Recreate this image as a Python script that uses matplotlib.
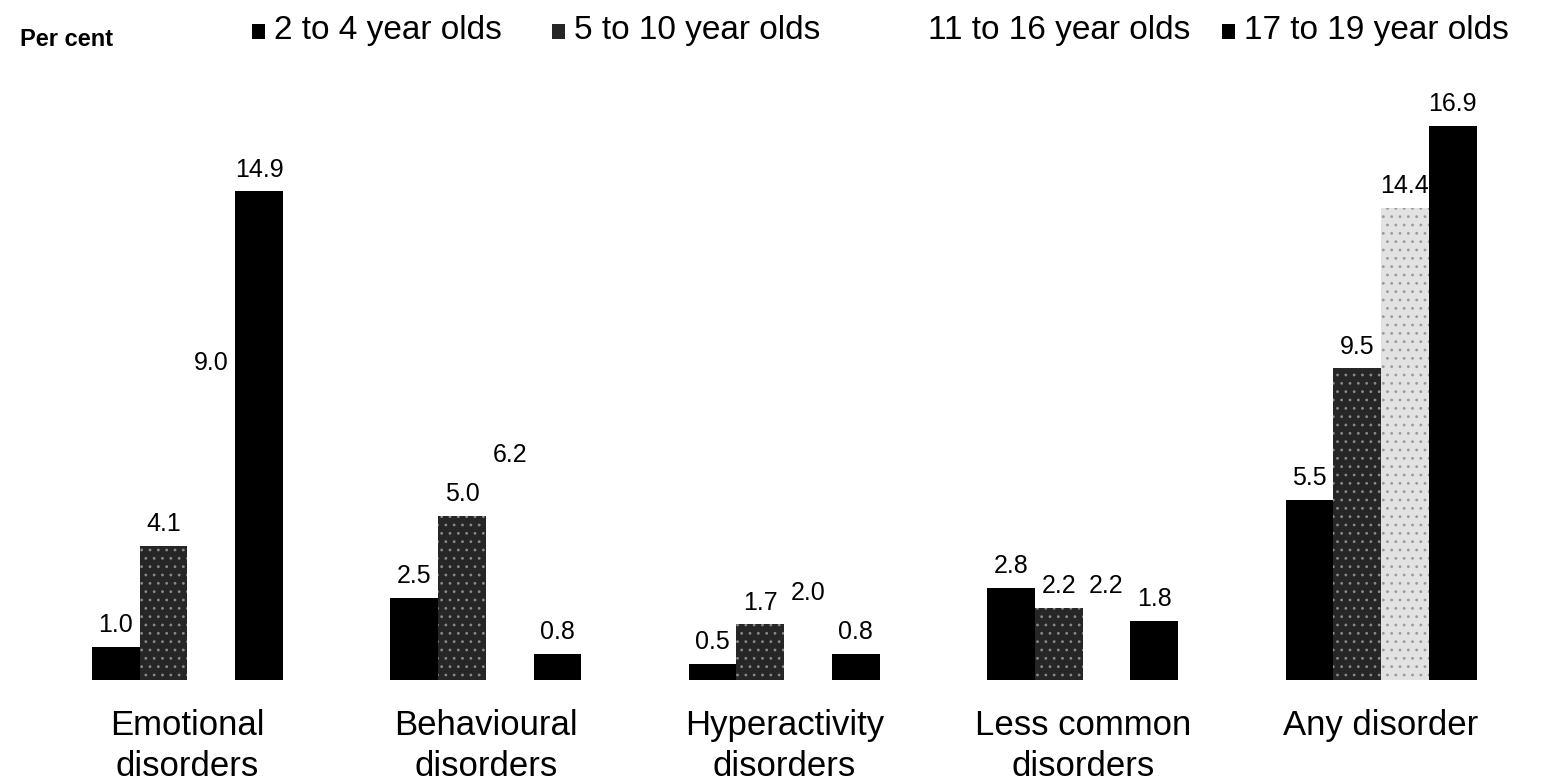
import matplotlib
matplotlib.use("Agg")
import matplotlib.pyplot as plt
from matplotlib.patches import Rectangle
import numpy as np

categories = ["Emotional\ndisorders", "Behavioural\ndisorders", "Hyperactivity\ndisorders",
              "Less common\ndisorders", "Any disorder"]
series_names = ["2 to 4 year olds", "5 to 10 year olds", "11 to 16 year olds", "17 to 19 year olds"]
age_2_4 = [1.0, 2.5, 0.5, 2.8, 5.5]
age_5_10 = [4.1, 5.0, 1.7, 2.2, 9.5]
age_11_16 = [9.0, 6.2, 2.0, 2.2, 14.4]
age_17_19 = [14.9, 0.8, 0.8, 1.8, 16.9]
series = [age_2_4, age_5_10, age_11_16, age_17_19]

plt.rcParams['font.family'] = ['Liberation Sans', 'DejaVu Sans']
plt.rcParams['hatch.linewidth'] = 0.8

W, H = 1544, 782
fig = plt.figure(figsize=(W / 100, H / 100), dpi=100)
ax = fig.add_axes([0, 102 / H, 1, 656 / H])
ax.set_xlim(-0.628, 4.546)
ax.set_ylim(0, 20)
ax.axis('off')

x = np.arange(len(categories))
w = 0.16
offsets = [-1.5 * w, -0.5 * w, 0.5 * w, 1.5 * w]
colors = ['black', '#262626', 'white', 'black']

for i, vals in enumerate(series):
    cols = [colors[i]] * len(vals)
    if i == 2:
        cols[-1] = '#e2e2e2'
    if i == 1:
        ax.bar(x + offsets[i], vals, width=w, color=cols, edgecolor='#8a8a8a',
               linewidth=0, hatch='..')
    elif i == 2:
        bars = ax.bar(x + offsets[i], vals, width=w, color=cols, edgecolor='none')
        bars[-1].set_hatch('..')
        bars[-1].set_edgecolor('#9a9a9a')
        bars[-1].set_linewidth(0)
    else:
        ax.bar(x + offsets[i], vals, width=w, color=cols, edgecolor='none')
    for xi, v in zip(x + offsets[i], vals):
        ax.annotate(f"{v:.1f}", (xi, v), xytext=(0, 7), textcoords='offset points',
                    ha='center', va='bottom', fontsize=18, color='black')

for xi, lab in zip(x, categories):
    ax.annotate(lab, (xi, 0), xytext=(0, -21), textcoords='offset points',
                ha='center', va='top', fontsize=25, linespacing=1.3)

# header and legend
fig.text(20 / W, 1 - 40 / H, "Per cent", fontsize=17, fontweight='bold', va='center', ha='left')
leg_x = [252, 552, 906, 1222]
for lx, name, c in zip(leg_x, series_names, colors):
    fig.patches.append(Rectangle((lx / W, 1 - 39 / H), 13 / W, 15 / H,
                                 transform=fig.transFigure, facecolor=c, edgecolor='none'))
    fig.text((lx + 22) / W, 1 - 30 / H, name, fontsize=24, va='center', ha='left')

fig.savefig("out.png", dpi=100, facecolor='white')
